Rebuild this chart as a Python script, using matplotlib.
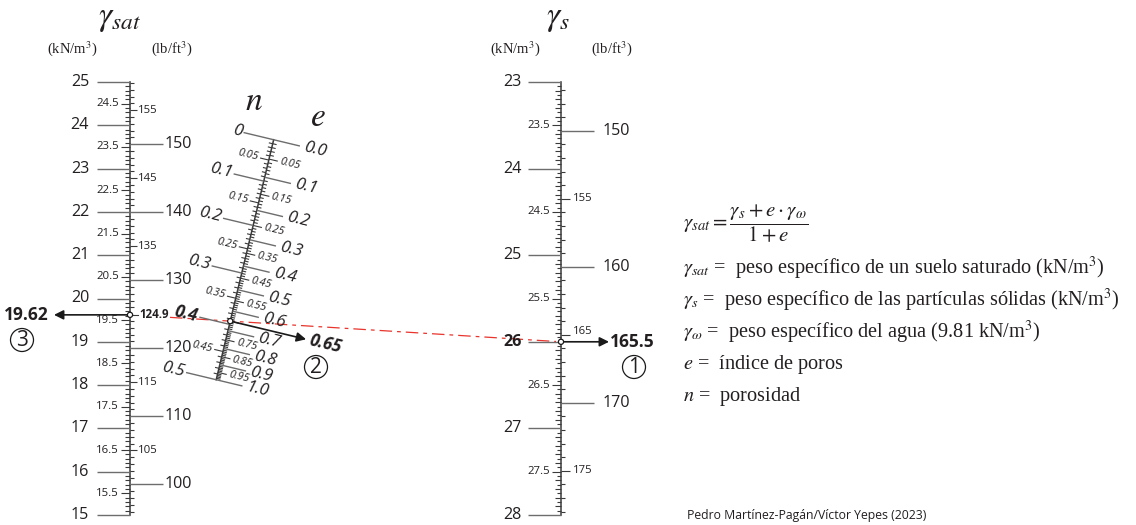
import numpy as np
import matplotlib.pyplot as plt
from matplotlib.collections import LineCollection
from matplotlib.patches import Circle

plt.rcParams['mathtext.fontset'] = 'stix'

# datos del nomograma
gamma_w = 9.81            # kN/m3
kn_to_lb = 6.3659         # lb/ft3 por kN/m3
gsat_min, gsat_max = 15, 25
gs_min, gs_max = 23, 28
e_major = [0.0, 0.1, 0.2, 0.3, 0.4, 0.5, 0.6, 0.7, 0.8, 0.9, 1.0]
e_half = [0.05, 0.15, 0.25, 0.35, 0.45, 0.55, 0.75, 0.85, 0.95]
n_major = [0, 0.1, 0.2, 0.3, 0.4, 0.5]
n_half = [0.05, 0.15, 0.25, 0.35, 0.45]
lb_left_major = [100, 110, 120, 130, 140, 150]
lb_left_half = [105, 115, 125, 135, 145, 155]
lb_right_major = [150, 160, 170]
lb_right_half = [155, 165, 175]

# ejemplo resuelto
gs_sel = 26.0
e_sel = 0.65
gsat_sel = (gs_sel + e_sel * gamma_w) / (1 + e_sel)
n_sel = e_sel / (1 + e_sel)

TXT = '#231f20'
AX = '#3a3a3a'
TK = '#6d6d6d'
SANS = 'Open Sans'
BIG, SMALL = 11.6, 8.2
MBIG, MSMALL = 12.2, 7.8

fig = plt.figure(figsize=(11.36, 5.25), dpi=100)
ax = fig.add_axes([0, 0, 1, 1])
ax.set_xlim(0, 1136)
ax.set_ylim(525, 0)
ax.axis('off')

# geometria de las escalas
XL, XR, Y0 = 130, 561, 82
mL = 433.0 / (gsat_max - gsat_min)
mR = 433.0 / (gs_max - gs_min)

def yL(g):
    return Y0 + (gsat_max - g) * mL

def yR(g):
    return Y0 + (g - gs_min) * mR

def mid(e):
    t = mL / (mL + mR * (1 + e))
    gsat = (gs_sel + e * gamma_w) / (1 + e)
    return np.array([XL + t * (XR - XL), (1 - t) * yL(gsat) + t * yR(gs_sel)])

segs = []
thin = []

# ---------- escala izquierda: gamma_sat ----------
ax.plot([XL, XL], [yL(gsat_max), yL(gsat_min)], color=AX, lw=1.1)
for v in np.arange(gsat_min, gsat_max + 0.001, 0.1):
    v = round(v, 1)
    y = yL(v)
    if abs(v - round(v)) < 1e-6:
        segs.append([(XL - 33, y), (XL, y)])
        ax.text(XL - 41, y, f'{int(round(v))}', ha='right', va='center',
                fontsize=BIG, color=TXT, family=SANS)
    elif abs(v * 2 - round(v * 2)) < 1e-6:
        thin.append([(XL - 9, y), (XL, y)])
        ax.text(XL - 11, y, f'{v:g}', ha='right', va='center',
                fontsize=SMALL, color=TXT, family=SANS)
    else:
        thin.append([(XL - 5, y), (XL, y)])
for lb in range(96, 160):
    y = yL(lb / kn_to_lb)
    if lb in lb_left_major:
        segs.append([(XL, y), (XL + 33, y)])
        ax.text(XL + 35, y, str(lb), ha='left', va='center',
                fontsize=BIG, color=TXT, family=SANS)
    elif lb in lb_left_half:
        if lb == 125:
            continue
        thin.append([(XL, y), (XL + 7, y)])
        ax.text(XL + 8, y, str(lb), ha='left', va='center',
                fontsize=SMALL, color=TXT, family=SANS)
    else:
        thin.append([(XL, y), (XL + 4, y)])

# ---------- escala derecha: gamma_s ----------
ax.plot([XR, XR], [yR(gs_min), yR(gs_max)], color=AX, lw=1.1)
for v in np.arange(gs_min, gs_max + 0.001, 0.05):
    v = round(v, 2)
    y = yR(v)
    if abs(v - round(v)) < 1e-6:
        segs.append([(XR - 33, y), (XR, y)])
        bold = abs(v - gs_sel) < 1e-6
        ax.text(XR - 39, y, f'{int(round(v))}', ha='right', va='center',
                fontsize=BIG, color=TXT, family=SANS,
                fontweight='bold' if bold else 'normal')
    elif abs(v * 2 - round(v * 2)) < 1e-6:
        thin.append([(XR - 9, y), (XR, y)])
        ax.text(XR - 11, y, f'{v:g}', ha='right', va='center',
                fontsize=SMALL, color=TXT, family=SANS)
    elif abs(v * 10 - round(v * 10)) < 1e-6:
        thin.append([(XR - 6, y), (XR, y)])
    else:
        thin.append([(XR - 4, y), (XR, y)])
for lb in range(147, 179):
    y = yR(lb / kn_to_lb)
    if lb in lb_right_major:
        segs.append([(XR, y), (XR + 33, y)])
        ax.text(XR + 42, y, str(lb), ha='left', va='center',
                fontsize=BIG, color=TXT, family=SANS)
    elif lb in lb_right_half:
        thin.append([(XR, y), (XR + 9, y)])
        ax.text(XR + 12, y - (3 if lb == 165 else 0), str(lb), ha='left', va='center',
                fontsize=SMALL, color=TXT, family=SANS)
    else:
        thin.append([(XR, y), (XR + 4, y)])

# ---------- escala central: n y e ----------
p0, p1 = mid(0.0), mid(1.0)
u = (p1 - p0) / np.linalg.norm(p1 - p0)
pv = np.array([u[1], -u[0]])          # perpendicular hacia la derecha
rot = -np.degrees(np.arctan2(pv[1], pv[0]))
ax.plot([p0[0], p1[0]], [p0[1], p1[1]], color=AX, lw=1.1)

for e in np.arange(0, 1.0001, 0.01):
    e = round(e, 2)
    P = mid(e)
    if e in e_major:
        segs.append([tuple(P), tuple(P + 27 * pv)])
        q = P + 31 * pv
        ax.text(q[0], q[1], f'{e:.1f}', ha='left', va='center', rotation=rot,
                rotation_mode='anchor', fontsize=MBIG, style='italic',
                color=TXT, family=SANS)
    elif abs(e * 20 - round(e * 20)) < 1e-6:
        thin.append([tuple(P), tuple(P + 9 * pv)])
        if e in e_half:
            q = P + 11 * pv
            ax.text(q[0], q[1], f'{e:g}', ha='left', va='center', rotation=rot,
                    rotation_mode='anchor', fontsize=MSMALL, style='italic',
                    color=TXT, family=SANS)
    else:
        thin.append([tuple(P), tuple(P + 4 * pv)])

for n in np.arange(0, 0.5001, 0.01):
    n = round(n, 2)
    P = mid(n / (1 - n))
    if n in n_major:
        segs.append([tuple(P - 31 * pv), tuple(P)])
        q = P - 33 * pv
        bold = abs(n - round(n_sel, 1)) < 1e-6
        ax.text(q[0], q[1], f'{n:g}', ha='right', va='center', rotation=rot,
                rotation_mode='anchor', fontsize=MBIG, style='italic',
                fontweight='bold' if bold else 'normal', color=TXT, family=SANS)
    elif n in n_half:
        thin.append([tuple(P - 9 * pv), tuple(P)])
        q = P - 11 * pv
        ax.text(q[0], q[1], f'{n:g}', ha='right', va='center', rotation=rot,
                rotation_mode='anchor', fontsize=MSMALL, style='italic',
                color=TXT, family=SANS)
    else:
        thin.append([tuple(P - 4 * pv), tuple(P)])

ax.add_collection(LineCollection(segs, colors=TK, linewidths=1.0))
ax.add_collection(LineCollection(thin, colors=AX, linewidths=0.8))

# ---------- titulos ----------
ax.text(XL - 10, 18, r'$\gamma_{sat}$', ha='center', va='center', fontsize=24, color=TXT)
ax.text(72, 49, r'(kN/m$^3$)', ha='center', va='center', fontsize=10.5,
        color=TXT, family='Liberation Serif')
ax.text(172, 49, r'(lb/ft$^3$)', ha='center', va='center', fontsize=10.5,
        color=TXT, family='Liberation Serif')
ax.text(XR - 3, 18, r'$\gamma_s$', ha='center', va='center', fontsize=24, color=TXT)
ax.text(515, 49, r'(kN/m$^3$)', ha='center', va='center', fontsize=10.5,
        color=TXT, family='Liberation Serif')
ax.text(612, 49, r'(lb/ft$^3$)', ha='center', va='center', fontsize=10.5,
        color=TXT, family='Liberation Serif')
ax.text(254, 100, r'$n$', ha='center', va='center', fontsize=24, color=TXT)
ax.text(318, 117, r'$e$', ha='center', va='center', fontsize=24, color=TXT)

# ---------- ejemplo: linea de lectura ----------
PL = np.array([XL, yL(gsat_sel)])
PR = np.array([XR, yR(gs_sel)])
PM = mid(e_sel)
x0 = 170
f0 = (x0 - XL) / (XR - XL)
f1 = (XR - 5 - XL) / (XR - XL)
ax.plot([PL[0] + f0 * (PR[0] - PL[0]), PL[0] + f1 * (PR[0] - PL[0])],
        [PL[1] + f0 * (PR[1] - PL[1]), PL[1] + f1 * (PR[1] - PL[1])],
        color='#e8342c', lw=0.9, dashes=(10, 4, 3, 4), zorder=1)

arrow = dict(arrowstyle='-|>', color='#1a1a1a', lw=1.2, mutation_scale=14,
             shrinkA=0, shrinkB=0)
ax.annotate('', xy=(54, PL[1]), xytext=tuple(PL), arrowprops=arrow)
ax.annotate('', xy=(609, PR[1]), xytext=tuple(PR), arrowprops=arrow)
tip = PM + 78 * pv
ax.annotate('', xy=tuple(tip), xytext=tuple(PM), arrowprops=arrow)

for P in (PL, PR, PM):
    ax.add_patch(Circle(tuple(P), 2.6, facecolor='white', edgecolor='#1a1a1a',
                        lw=0.9, zorder=5))

ax.text(49, PL[1], f'{gsat_sel:.2f}', ha='right', va='center', fontsize=12.5,
        fontweight='bold', color=TXT, family=SANS)
ax.plot([PL[0] + 3, PL[0] + 8], [PL[1], PL[1]], color=AX, lw=0.8)
ax.text(PL[0] + 9, PL[1], f'{gsat_sel * kn_to_lb:.1f}', ha='left', va='center',
        fontsize=8.3, fontweight='bold', color=TXT, family=SANS)
ax.text(610, PR[1], f'{gs_sel * kn_to_lb:.1f}', ha='left', va='center', fontsize=12.5,
        fontweight='bold', color=TXT, family=SANS)
q = tip + 4 * pv
ax.text(q[0], q[1], f'{e_sel:g}', ha='left', va='center', rotation=rot,
        rotation_mode='anchor', fontsize=MBIG, style='italic', fontweight='bold',
        color=TXT, family=SANS)

for (cx, cy), lab in (((22, 340), '3'), ((316, 367), '2'), ((634, 367), '1')):
    ax.add_patch(Circle((cx, cy), 11.5, facecolor='none', edgecolor='#1a1a1a', lw=0.9))
    ax.text(cx, cy + 0.5, lab, ha='center', va='center', fontsize=15,
            color=TXT, family=SANS)

# ---------- formulas ----------
ax.text(683, 224, r'$\gamma_{sat} = \dfrac{\gamma_s + e \cdot \gamma_{\omega}}{1 + e}$',
        ha='left', va='center', fontsize=15, color=TXT)
defs = [r'$\gamma_{sat}$ =  peso específico de un suelo saturado (kN/m$^3$)',
        r'$\gamma_s$ =  peso específico de las partículas sólidas (kN/m$^3$)',
        r'$\gamma_{\omega}$ =  peso específico del agua (9.81 kN/m$^3$)',
        r'$e$ =  índice de poros',
        r'$n$ =  porosidad']
for i, d in enumerate(defs):
    ax.text(683, 268 + i * 32, d, ha='left', va='center', fontsize=14.6,
            color=TXT, family='Liberation Serif')

ax.text(687, 516, 'Pedro Martínez-Pagán/Víctor Yepes (2023)', ha='left', va='center',
        fontsize=8.8, color=TXT, family=SANS)

fig.savefig('out.png', dpi=100)
